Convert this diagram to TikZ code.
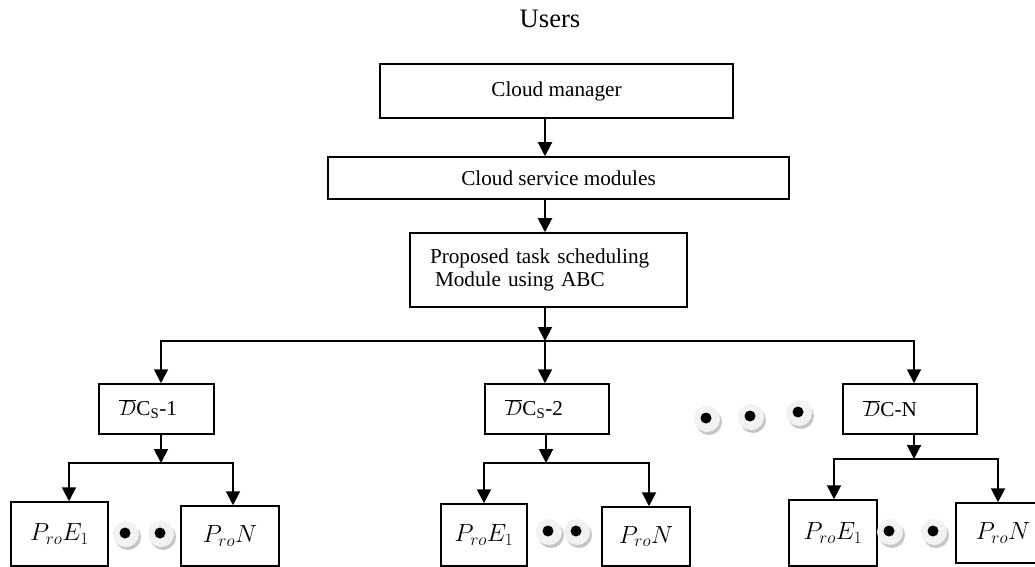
\documentclass[tikz,border=0pt]{standalone}
\usepackage{fontspec}
\setmainfont{Liberation Serif}
\usetikzlibrary{calc,arrows.meta}
\colorlet{dot_disc}{gray!10}
\colorlet{dot_shadow}{gray!45}
\tikzset{
    box/.style={draw,line width=1.5bp,inner sep=0pt,font=\fontsize{21.3}{23}\selectfont},
    box_text/.style={box,align=left,inner xsep=20bp,inner ysep=0pt},
    math_box/.style={box,font=\fontsize{24}{26}\selectfont},
    flow/.style={-{Triangle[length=14bp,width=14bp]},line width=2bp},
    eye_dot/.pic={
        \fill[dot_shadow] (2,3) circle (13bp);
        \fill[dot_disc] (0,0) circle (13bp);
        \fill[black] (-1,-1) circle (5.5bp);
    },
}

\begin{document}
\begin{tikzpicture}[x=1bp,y=-1bp]
  \useasboundingbox (0,0) rectangle (1035,567);
  \node[font=\fontsize{26.7}{30}\selectfont,anchor=base] (users) at (550,28) {Users};
  \node[box,minimum width=353bp,minimum height=54bp] (cm) at (556.5,91) {Cloud manager};
  \node[box,minimum width=461bp,minimum height=42bp] (csm) at (558.5,178) {Cloud service modules};
  \node[box_text,text width=237bp,minimum height=74bp] (pts) at (548.5,270)
    {Proposed task scheduling\\\hspace{5bp}Module using ABC};
  % data centre boxes
  \node[box_text,text width=75bp,minimum height=50bp] (d1) at (156.5,409) {$\overline{D}$C\textsubscript{S}-1};
  \node[box_text,text width=84bp,minimum height=50bp] (d2) at (547,409) {$\overline{D}$C\textsubscript{S}-2};
  \node[box_text,text width=94bp,minimum height=50bp] (d3) at (910,409) {$\overline{D}$C-N};
  % processing element boxes
  \node[math_box,minimum width=97bp,minimum height=64bp] (p11) at (59.5,534) {$P_{ro}E_1$};
  \node[math_box,minimum width=98bp,minimum height=60bp] (p12) at (230,536) {$P_{ro}N$};
  \node[math_box,minimum width=86bp,minimum height=62bp] (p21) at (484,535) {$P_{ro}E_1$};
  \node[math_box,minimum width=88bp,minimum height=59bp] (p22) at (646,536.5) {$P_{ro}N$};
  \node[math_box,minimum width=88bp,minimum height=66bp] (p31) at (833,533) {$P_{ro}E_1$};
  \node[math_box,minimum width=94bp,minimum height=60bp] (p32) at (1003,533) {$P_{ro}N$};
  \coordinate (spine) at (545,341);
  \coordinate (j1) at (161,463);
  \coordinate (j2) at (546,463);
  \coordinate (j3) at (914,459);
  % Draw main flow
  \draw[flow] (cm.south -| spine) -- (csm.north -| spine);
  \draw[flow] (csm.south -| spine) -- (pts.north -| spine);
  \draw[flow] (pts.south -| spine) -- (spine);
  \draw[flow] (spine) -| (d1.north -| j1);
  \draw[flow] (spine) -- (d2.north -| spine);
  \draw[flow] (spine) -| (d3.north -| j3);
  % Draw branches to processing elements
  \draw[flow] (d1.south -| j1) -- (j1);
  \draw[flow] (j1) -| ([xshift=9.5bp]p11.north);
  \draw[flow] (j1) -| ([xshift=3bp]p12.north);
  \draw[flow] (d2.south -| j2) -- (j2);
  \draw[flow] (j2) -| (p21.north);
  \draw[flow] (j2) -| ([xshift=3bp]p22.north);
  \draw[flow] (d3.south -| j3) -- (j3);
  \draw[flow] (j3) -| ([xshift=1bp]p31.north);
  \draw[flow] (j3) -| ([xshift=-5bp]p32.north);
  % ellipsis dots
  \pic at (707,419) {eye_dot};
  \pic at (751,417) {eye_dot};
  \pic at (799,413) {eye_dot};
  \pic at (126,534) {eye_dot};
  \pic at (161,534) {eye_dot};
  \pic at (549,532) {eye_dot};
  \pic at (577,532) {eye_dot};
  \pic at (890,532) {eye_dot};
  \pic at (934,532) {eye_dot};
\end{tikzpicture}
\end{document}
